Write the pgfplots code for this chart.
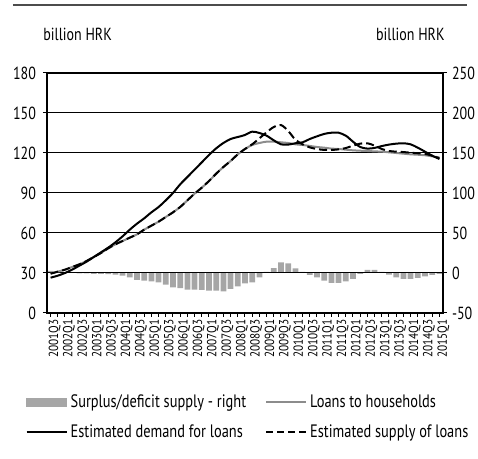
\documentclass[border=0pt]{standalone}
\usepackage{pgfplots}
\pgfplotsset{compat=1.18}
\usepackage{pgfplotstable}
\usepackage{fontspec}
\setmainfont[FakeStretch=0.8]{PT Sans}
\newfontfamily\xfont[FakeStretch=0.85]{PT Sans}

\pgfplotstableread{
i  bar    H      D      S
0  2.5    29.5   26.5   29.5
1  1.5    31     28     31
2  1      32.5   30     32.5
3  0.5    34.5   32.5   34.5
4  -0.5   36.5   35.5   36.5
5  -0.5   39     38.5   39
6  -1     42     42     42
7  -1     45     45.5   45
8  -1.5   48.5   49     48.5
9  -2     51.5   53     51.5
10 -3.4   54     57.5   54
11 -5.4   56.5   62.5   56.5
12 -8.7   59     67     59
13 -9.6   62.5   71     62.5
14 -10.4  65.5   75.5   65.5
15 -11.7  68.5   79.5   68.5
16 -14.6  72     84.5   72
17 -17.9  75.5   90     75.5
18 -19    79.5   96.5   79.5
19 -20.8  84.5   102    84.5
20 -20.8  89.5   107.5  89.5
21 -21.2  94     113    94
22 -22    99     118.5  99
23 -22    104.5  123.5  104.5
24 -22.9  109.5  127.5  109.5
25 -20    114    130.5  114
26 -16.7  119    132    119
27 -13    123    133.5  123
28 -11.7  126    136    126.5
29 -5.4   127.5  135    131
30 1.5    128.5  133    135.5
31 6.2    128.5  129.5  139.5
32 13.3   128    126.5  141
33 12.1   127.5  126.3  136.5
34 5.8    126.5  127.3  130
35 1.25   126    128    126.5
36 -2.5   125.3  130.5  124.2
37 -5.4   124.5  132.5  123
38 -9.6   124    134.3  122.3
39 -12.5  123.3  135.2  122.3
40 -12.5  123    135.2  122.7
41 -10.4  122.5  133    123.7
42 -7.5   122    128.5  125.5
43 -1.25  121.7  124.5  127
44 3.75   121.5  123.3  127.3
45 3.75   121.2  123.8  125.5
46 1.25   121    125.2  123
47 -2     120.5  126.3  121.5
48 -5.4   120    127    121
49 -7.5   119.5  127.3  120.7
50 -7.5   119    126.5  120.2
51 -6.2   118.7  124    119.8
52 -4.2   118.3  121    119.3
53 -2.5   117.5  118    118
54 -1.2   116.7  115.5  116
}\datatable

\begin{document}
\begin{tikzpicture}
\useasboundingbox (-23.5pt,-73pt) rectangle (215.5pt,156.5pt);
\draw[line width=1pt, black!70] (-17pt,154pt) -- (210pt,154pt);
\node[anchor=base west, inner sep=0pt, font=\fontsize{8.75}{10}\selectfont] at (-2pt,136pt) {billion HRK};
\node[anchor=base east, inner sep=0pt, font=\fontsize{8.75}{10}\selectfont] at (199pt,136pt) {billion HRK};

% right axis with bars
\begin{axis}[
  scale only axis, width=198pt, height=120pt,
  xmin=-0.5, xmax=54.5, ymin=-50, ymax=250,
  hide x axis,
  axis y line*=right,
  axis line style={line width=0.6pt},
  ytick={-50,0,50,100,150,200,250},
  tick align=outside, major tick length=2pt,
  tick style={black, line width=0.5pt},
  /pgf/number format/assume math mode=true,
  yticklabel style={font=\fontsize{8.75}{10}\selectfont, xshift=-1pt},
]
\addplot[ybar, bar width=0.8, fill=black!35, draw=none] table[x=i, y=bar] {\datatable};
\end{axis}

% left axis with lines
\begin{axis}[
  scale only axis, width=198pt, height=120pt,
  xmin=-0.5, xmax=54.5, ymin=0, ymax=180,
  ytick={0,30,60,90,120,150,180},
  ytick pos=left, xtick pos=bottom,
  ymajorgrids, grid style={black, line width=0.5pt},
  axis line style={line width=0.6pt},
  tick align=outside, major tick length=2pt, minor tick length=2pt,
  tick style={black, line width=0.5pt},
  xtick={0,2,...,54}, minor xtick={1,3,...,53},
  xticklabels={2001Q3,2002Q1,2002Q3,2003Q1,2003Q3,2004Q1,2004Q3,2005Q1,2005Q3,2006Q1,2006Q3,2007Q1,2007Q3,2008Q1,2008Q3,2009Q1,2009Q3,2010Q1,2010Q3,2011Q1,2011Q3,2012Q1,2012Q3,2013Q1,2013Q3,2014Q1,2014Q3,2015Q1},
  xticklabel style={rotate=90, anchor=east, font=\xfont\fontsize{6.6}{7}\selectfont, inner sep=1pt, yshift=-2pt},
  /pgf/number format/assume math mode=true,
  yticklabel style={font=\fontsize{8.75}{10}\selectfont},
  legend columns=2,
  legend cell align=left,
  legend style={at={(-0.055,-0.325)}, anchor=north west, draw=none, fill=none, inner sep=0pt,
    font=\fontsize{9}{10.5}\selectfont, row sep=4.2pt,
    /tikz/every even column/.append style={column sep=8pt},
    nodes={inner sep=1.5pt}},
  legend image code/.code={\draw[#1] (0pt,0pt) -- (20pt,0pt);},
]
\addlegendimage{legend image code/.code={\fill[black!35] (0pt,-2pt) rectangle (20pt,2pt);}}
\addlegendentry{Surplus/deficit supply - right}
\addlegendimage{black!45, line width=1pt}
\addlegendentry{Loans to households}
\addlegendimage{black, line width=1pt}
\addlegendentry{Estimated demand for loans}
\addlegendimage{black, line width=1pt, dash pattern=on 3.5pt off 2pt}
\addlegendentry{Estimated supply of loans}

\addplot[black!45, line width=1pt, smooth, forget plot] table[x=i, y=H] {\datatable};
\addplot[black, line width=1pt, smooth, forget plot] table[x=i, y=D] {\datatable};
\addplot[black, line width=1pt, smooth, dash pattern=on 4pt off 2pt, forget plot] table[x=i, y=S] {\datatable};
\end{axis}
\end{tikzpicture}
\end{document}
